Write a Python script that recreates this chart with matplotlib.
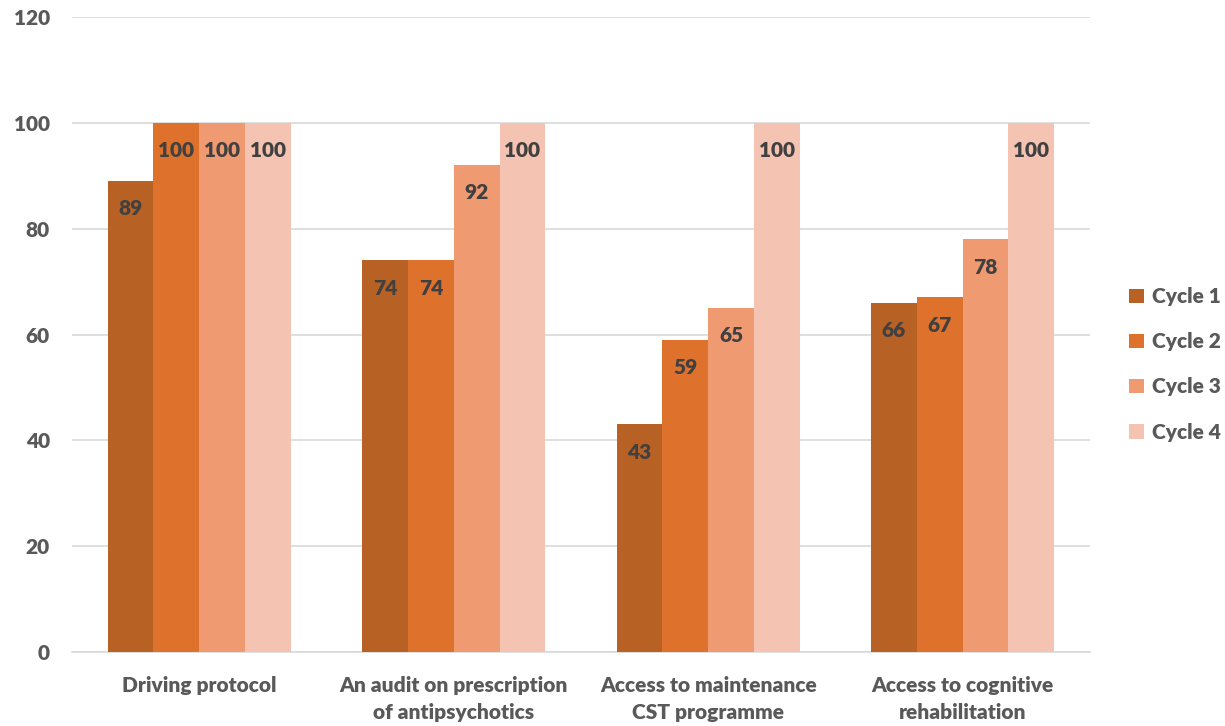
import numpy as np
import matplotlib.pyplot as plt

categories = [
    "Driving protocol",
    "An audit on prescription\nof antipsychotics",
    "Access to maintenance\nCST programme",
    "Access to cognitive\nrehabilitation",
]
series_names = ["Cycle 1", "Cycle 2", "Cycle 3", "Cycle 4"]
cycle1 = [89, 74, 43, 66]
cycle2 = [100, 74, 59, 67]
cycle3 = [100, 92, 65, 78]
cycle4 = [100, 100, 100, 100]
yticks = [0, 20, 40, 60, 80, 100, 120]

colors = ["#B86125", "#DE722C", "#F09A72", "#F5C3B1"]
WEIGHT = 800


def main():
    plt.rcParams["font.family"] = ["Lato", "DejaVu Sans"]

    fig = plt.figure(figsize=(12.25, 7.26), dpi=100)
    ax = fig.add_axes([0.0588, 0.1019, 0.8309, 0.8747])

    x = np.arange(len(categories))
    width = 0.18
    all_series = [cycle1, cycle2, cycle3, cycle4]
    for i, (vals, name) in enumerate(zip(all_series, series_names)):
        offset = (i - 1.5) * width
        bars = ax.bar(x + offset, vals, width, color=colors[i], label=name, zorder=3)
        for b, v in zip(bars, vals):
            ax.annotate(str(v), (b.get_x() + b.get_width() / 2, v),
                        xytext=(0, -20), textcoords="offset points",
                        ha="center", va="center", fontsize=15,
                        fontweight=WEIGHT, color="#404040", zorder=4)

    ax.set_xlim(-0.5, len(categories) - 0.5)
    ax.set_ylim(0, 120)
    ax.set_yticks(yticks)
    ax.yaxis.grid(True, color="#D9D9D9", linewidth=1.2, zorder=0)
    ax.set_xticks(x)
    ax.set_xticklabels(categories, fontsize=15, fontweight=WEIGHT,
                       color="#595959", linespacing=1.5)
    for t in ax.get_yticklabels():
        t.set_fontweight(WEIGHT)
    ax.tick_params(axis="y", labelsize=15, labelcolor="#595959", length=0, pad=16)
    ax.tick_params(axis="x", length=0, pad=17)
    for s in ["top", "right", "left"]:
        ax.spines[s].set_visible(False)
    ax.spines["bottom"].set_color("#D9D9D9")
    ax.spines["bottom"].set_linewidth(1.2)

    leg = fig.legend(loc="center left", bbox_to_anchor=(0.922, 0.498),
                     frameon=False, fontsize=15, labelspacing=1.25,
                     handlelength=0.7, handleheight=0.7, handletextpad=0.4,
                     borderpad=0, borderaxespad=0)
    for t in leg.get_texts():
        t.set_color("#595959")
        t.set_fontweight(WEIGHT)

    fig.savefig("out.png", dpi=100)


if __name__ == "__main__":
    main()
